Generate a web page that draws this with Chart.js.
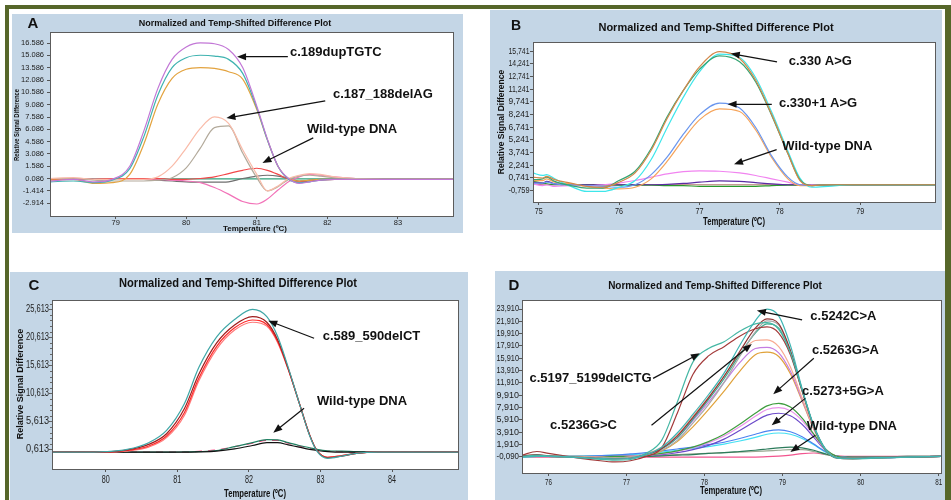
<!DOCTYPE html>
<html>
<head>
<meta charset="utf-8">
<script src="https://cdn.jsdelivr.net/npm/chart.js@4.4.1/dist/chart.umd.min.js"></script>
<style>
  body { margin: 0; width: 951px; height: 500px; background: #fff; position: relative; overflow: hidden; }
  .frame { position: absolute; background: #56672a; }
  .panel { position: absolute; background: #c4d6e6; }
  .panel canvas { display: block; }
</style>
</head>
<body>
<div class="frame" style="left:5px;top:5px;width:946px;height:4px"></div>
<div class="frame" style="left:5px;top:5px;width:4px;height:495px"></div>
<div class="frame" style="left:945px;top:5px;width:6px;height:495px"></div>

<div class="panel" style="left:12px;top:14px;width:451px;height:219px"><canvas id="chartA" width="451" height="219"></canvas></div>
<div class="panel" style="left:490px;top:10px;width:452px;height:220px"><canvas id="chartB" width="452" height="220"></canvas></div>
<div class="panel" style="left:10px;top:272px;width:458px;height:228px"><canvas id="chartC" width="458" height="228"></canvas></div>
<div class="panel" style="left:495px;top:271px;width:450px;height:229px"><canvas id="chartD" width="450" height="229"></canvas></div>

<script>
const FONT = "'Liberation Sans', Arial, sans-serif";
const TITLE = 'Normalized and Temp-Shifted Difference Plot';
const X_TITLE = 'Temperature (ºC)';
const Y_TITLE = 'Relative Signal Difference';

// ---- panel A ----
const tempA = [78.07, 78.4, 78.7, 78.95, 79.2, 79.4, 79.6, 79.8, 80.0, 80.2, 80.4, 80.6, 80.8, 81.0, 81.15, 81.3, 81.45, 81.6, 81.75, 81.9, 82.1, 82.4, 82.8, 83.3, 83.78];
const purpleA = [-0.2, 0.0, -0.3, 0.0, 1.6, 5.9, 11.1, 14.6, 16.1, 16.6, 16.5, 15.8, 13.6, 8.9, 4.9, 1.6, 0.1, -0.5, -0.3, -0.1, 0.0, 0.0, 0.0, 0.0, 0.0];
const tealA = [-0.3, -0.2, -0.4, -0.1, 1.3, 5.2, 10.3, 13.6, 14.8, 15.1, 15.0, 14.6, 12.9, 8.7, 4.8, 1.6, 0.0, -0.4, -0.3, -0.1, 0.0, 0.0, 0.0, 0.0, 0.0];
const orangeA = [-0.1, 0.0, -0.5, -0.4, 0.6, 4.3, 9.2, 12.3, 13.4, 13.6, 13.5, 13.1, 12.2, 8.5, 4.8, 1.6, 0.1, -0.2, -0.1, 0.0, 0.0, 0.0, 0.0, 0.0, 0.0];
const salmonA = [0.1, 0.2, 0.0, 0.0, 0.0, 0.0, 0.3, 1.6, 3.8, 6.2, 7.6, 6.8, 3.6, 0.6, -1.4, -0.8, 0.1, 0.5, 0.7, 0.6, 0.3, 0.1, 0.0, 0.0, 0.0];
const grayA = [0.1, 0.1, -0.1, -0.2, -0.2, -0.2, -0.1, 0.2, 1.4, 3.8, 6.3, 6.5, 3.2, 0.2, -1.4, -0.9, 0.0, 0.4, 0.5, 0.4, 0.2, 0.1, 0.0, 0.0, 0.0];
const redA = [0.0, 0.0, 0.0, 0.1, 0.1, 0.1, 0.1, 0.0, 0.0, 0.1, 0.3, 0.7, 1.1, 1.35, 1.1, 0.6, 0.0, -0.3, -0.2, -0.1, 0.0, 0.0, 0.0, 0.0, 0.0];
const pinkA = [0.0, 0.0, 0.0, 0.0, 0.0, 0.0, 0.0, -0.1, -0.2, -0.4, -1.0, -1.8, -2.7, -3.0, -2.4, -1.3, -0.3, 0.3, 0.6, 0.5, 0.3, 0.1, 0.0, 0.0, 0.0];
const darkA = [0.0, 0.1, 0.0, 0.0, 0.0, 0.0, -0.1, -0.2, -0.3, -0.35, -0.35, -0.3, 0.1, 0.4, 0.5, 0.4, 0.1, -0.2, -0.1, 0.0, 0.0, 0.0, 0.0, 0.0, 0.0];
const flatA = [0.05, 0.05, 0.05, 0.05, 0.05, 0.05, 0.05, 0.05, 0.05, 0.05, 0.05, 0.05, 0.05, 0.05, 0.05, 0.05, 0.05, 0.05, 0.05, 0.05, 0.05, 0.05, 0.05, 0.05, 0.05];
const yTicksA = [16.586, 15.086, 13.586, 12.086, 10.586, 9.086, 7.586, 6.086, 4.586, 3.086, 1.586, 0.086, -1.414, -2.914];
const xTicksA = [79, 80, 81, 82, 83];

// ---- panel B ----
const tempB = [74.93, 75.05, 75.1, 75.2, 75.4, 75.6, 75.8, 76.0, 76.2, 76.4, 76.6, 76.8, 77.0, 77.25, 77.5, 77.7, 77.9, 78.1, 78.25, 78.4, 78.6, 78.9, 79.3, 79.93];
const brownB = [0.8, 0.7, 0.9, 0.5, 0.1, -0.3, -0.4, 0.2, 1.3, 4.0, 7.8, 11.1, 13.9, 15.7, 14.9, 12.3, 8.2, 3.6, 0.4, -0.2, -0.1, -0.1, -0.1, -0.1];
const greenB = [0.5, 0.6, 0.8, 0.3, -0.2, -0.5, -0.5, 0.4, 1.5, 4.2, 8.0, 11.1, 13.6, 15.2, 14.5, 12.1, 8.1, 3.6, 0.5, -0.2, -0.1, -0.1, -0.1, -0.1];
const cyanB = [1.3, 1.0, 1.1, 0.6, -0.3, -0.9, -0.9, -0.4, 0.4, 2.9, 6.7, 10.3, 13.3, 15.4, 15.0, 12.6, 8.5, 3.9, 0.7, -0.4, -0.3, -0.1, -0.1, -0.1];
const blueB = [0.1, 0.1, 0.2, 0.0, -0.1, -0.2, -0.3, -0.4, -0.1, 1.1, 3.2, 5.9, 8.2, 9.6, 9.0, 6.7, 3.3, 0.8, -0.1, -0.2, -0.1, -0.1, -0.1, -0.1];
const orangeB = [0.4, 0.4, 0.6, 0.2, 0.0, -0.3, -0.5, -0.6, -0.4, 0.6, 2.7, 5.3, 7.6, 8.9, 8.6, 6.4, 3.1, 0.6, -0.2, -0.2, -0.1, -0.1, -0.1, -0.1];
const pinkB = [0.0, -0.2, -0.1, -0.3, -0.2, -0.2, -0.1, 0.1, 0.4, 0.8, 1.2, 1.45, 1.55, 1.5, 1.3, 1.0, 0.6, 0.2, -0.1, -0.1, -0.1, -0.1, -0.1, -0.1];
const purpleB = [0.2, 0.1, 0.3, 0.0, -0.1, -0.1, -0.1, -0.1, -0.1, -0.1, -0.05, 0.05, 0.2, 0.35, 0.3, 0.15, 0.0, -0.1, -0.1, -0.1, -0.1, -0.1, -0.1, -0.1];
const darkGreenB = [0.3, 0.1, 0.0, -0.1, -0.1, -0.1, -0.1, -0.15, -0.15, -0.15, -0.2, -0.2, -0.3, -0.3, -0.3, -0.3, -0.2, -0.15, -0.15, -0.15, -0.15, -0.15, -0.15, -0.15];
const flatB = [0.0, -0.1, -0.1, -0.1, -0.1, -0.1, -0.1, -0.1, -0.1, -0.1, -0.1, -0.1, -0.1, -0.1, -0.1, -0.1, -0.1, -0.1, -0.1, -0.1, -0.1, -0.1, -0.1, -0.1];
const yTicksB = [15.741, 14.241, 12.741, 11.241, 9.741, 8.241, 6.741, 5.241, 3.741, 2.241, 0.741, -0.759];
const xTicksB = [75, 76, 77, 78, 79];

// ---- panel C ----
const tempC = [79.25, 79.6, 80.0, 80.3, 80.6, 80.85, 81.1, 81.3, 81.55, 81.8, 82.05, 82.25, 82.4, 82.55, 82.7, 82.85, 82.95, 83.1, 83.3, 83.5, 83.8, 84.1, 84.4, 84.7, 84.92];
const tealC = [0.1, 0.1, 0.2, 0.6, 1.8, 4.0, 8.8, 15.2, 20.7, 23.8, 25.6, 24.3, 20.8, 15.2, 9.0, 3.0, 0.3, -1.0, -0.6, -0.1, 0.1, 0.1, 0.1, 0.1, 0.1];
const darkRedC = [0.1, 0.1, 0.15, 0.5, 1.5, 3.4, 7.9, 14.0, 19.6, 22.8, 24.3, 23.3, 20.2, 15.0, 9.0, 3.1, 0.4, -0.9, -0.6, -0.1, 0.1, 0.1, 0.1, 0.1, 0.1];
const redC = [0.1, 0.1, 0.1, 0.4, 1.2, 3.0, 7.2, 13.3, 19.0, 22.3, 23.7, 22.9, 19.9, 14.9, 9.0, 3.1, 0.4, -0.8, -0.5, -0.1, 0.1, 0.1, 0.1, 0.1, 0.1];
const lightRedC = [0.1, 0.1, 0.1, 0.3, 1.0, 2.7, 6.7, 12.8, 18.5, 21.9, 23.3, 22.6, 19.7, 14.8, 9.0, 3.1, 0.4, -0.8, -0.5, -0.1, 0.1, 0.1, 0.1, 0.1, 0.1];
const wildGreenC = [0.1, 0.1, 0.1, 0.1, 0.1, 0.1, 0.15, 0.2, 0.4, 1.1, 1.8, 2.35, 2.3, 1.8, 1.3, 0.9, 0.6, 0.35, 0.3, 0.2, 0.15, 0.1, 0.1, 0.1, 0.1];
const wildPinkC = [0.1, 0.1, 0.1, 0.1, 0.1, 0.1, 0.15, 0.25, 0.5, 1.1, 1.7, 2.2, 2.2, 1.7, 1.2, 0.8, 0.5, 0.3, 0.2, 0.1, 0.1, 0.1, 0.1, 0.1, 0.1];
const wildBlackC = [0.1, 0.1, 0.1, 0.1, 0.1, 0.1, 0.1, 0.15, 0.3, 0.7, 1.3, 1.8, 1.8, 1.4, 1.0, 0.6, 0.4, 0.2, 0.1, 0.1, 0.1, 0.1, 0.1, 0.1, 0.1];
const yTicksC = [25.613, 20.613, 15.613, 10.613, 5.613, 0.613];
const xTicksC = [80, 81, 82, 83, 84];

// ---- panel D ----
const tempD = [75.66, 75.85, 76.0, 76.3, 76.6, 76.85, 77.05, 77.25, 77.45, 77.65, 77.85, 78.05, 78.25, 78.45, 78.65, 78.8, 78.95, 79.1, 79.25, 79.4, 79.55, 79.7, 79.9, 80.2, 80.6, 81.03];
const topD = [-0.1, 0.0, 0.0, -0.1, -0.3, -0.4, -0.3, 0.3, 1.5, 3.8, 6.8, 10.0, 13.5, 18.0, 22.0, 23.9, 22.8, 18.0, 11.0, 5.0, 1.2, -0.2, -0.3, -0.2, -0.1, 0.0];
const shoulderTealD = [0.0, 0.2, 0.1, -0.1, -0.4, -0.6, -0.5, 0.5, 2.6, 8.8, 15.3, 17.5, 18.6, 20.3, 21.5, 21.7, 20.6, 16.8, 10.8, 4.8, 1.0, -0.3, -0.4, -0.3, -0.1, 0.0];
const shoulderRedD = [0.2, 0.8, 0.5, -0.1, -0.6, -0.9, -0.7, 0.0, 1.4, 7.0, 13.3, 16.3, 17.8, 19.5, 20.7, 21.0, 20.0, 16.5, 10.6, 4.8, 1.0, -0.3, -0.4, -0.2, -0.1, 0.0];
const brownD = [0.1, 0.3, 0.1, -0.1, -0.3, -0.4, -0.3, 0.3, 1.3, 3.3, 6.3, 9.5, 13.0, 17.0, 20.8, 22.3, 21.5, 17.2, 10.8, 4.9, 1.1, -0.2, -0.3, -0.2, -0.1, 0.0];
const grayD = [0.0, 0.1, 0.0, -0.1, -0.2, -0.3, -0.2, 0.2, 1.0, 2.6, 5.4, 8.4, 12.0, 16.2, 20.2, 22.0, 21.3, 17.0, 10.7, 4.8, 1.1, -0.2, -0.3, -0.2, -0.1, 0.0];
const greenTealD = [0.0, 0.1, 0.0, -0.1, -0.2, -0.3, -0.2, 0.3, 1.2, 3.0, 6.0, 9.2, 12.6, 16.5, 20.0, 21.5, 20.8, 16.8, 10.7, 4.8, 1.1, -0.2, -0.3, -0.2, -0.1, 0.0];
const salmonD = [0.1, 0.2, 0.1, 0.0, -0.1, -0.2, -0.1, 0.4, 1.5, 3.5, 6.5, 9.6, 13.0, 16.5, 18.8, 18.9, 17.8, 14.5, 9.5, 4.6, 1.1, -0.2, -0.3, -0.2, -0.1, 0.0];
const violetD = [0.0, 0.1, 0.0, -0.1, -0.1, -0.2, -0.1, 0.3, 1.2, 3.0, 5.8, 8.8, 12.0, 15.2, 17.5, 17.7, 16.8, 13.8, 9.2, 4.5, 1.1, -0.2, -0.3, -0.2, -0.1, 0.0];
const orangeD = [0.0, 0.1, 0.0, -0.1, -0.1, -0.2, -0.1, 0.2, 0.9, 2.4, 4.8, 7.6, 10.6, 13.8, 16.5, 16.9, 16.2, 13.4, 9.0, 4.4, 1.0, -0.2, -0.3, -0.2, -0.1, 0.0];
const greenD = [0.0, 0.0, 0.0, -0.1, -0.1, 0.0, 0.0, 0.2, 0.5, 0.9, 1.5, 2.4, 3.6, 5.2, 7.0, 8.2, 8.6, 8.0, 6.2, 3.6, 1.2, 0.0, -0.2, -0.2, -0.1, 0.0];
const lilacD = [0.0, 0.0, 0.0, -0.1, -0.1, 0.0, 0.1, 0.2, 0.4, 0.8, 1.4, 2.2, 3.3, 4.8, 6.5, 7.6, 7.9, 7.4, 5.8, 3.4, 1.1, 0.0, -0.2, -0.2, -0.1, 0.0];
const purpleD = [0.0, 0.0, 0.0, -0.1, -0.1, 0.0, 0.1, 0.2, 0.3, 0.6, 1.1, 1.8, 2.8, 4.2, 5.7, 6.7, 7.0, 6.6, 5.2, 3.1, 1.0, 0.0, -0.2, -0.2, -0.1, 0.0];
const blueD = [0.0, 0.0, 0.0, 0.0, 0.1, 0.2, 0.4, 0.6, 0.9, 1.2, 1.5, 1.9, 2.3, 2.9, 3.6, 4.1, 4.3, 4.0, 3.2, 2.0, 0.8, 0.0, -0.2, -0.2, -0.1, 0.0];
const cyanD = [-0.1, 0.0, 0.0, 0.0, 0.1, 0.2, 0.3, 0.4, 0.7, 1.0, 1.3, 1.6, 2.0, 2.5, 3.1, 3.6, 3.8, 3.6, 2.9, 1.9, 0.7, 0.0, -0.2, -0.2, -0.1, 0.0];
const wildGreenD = [0.0, 0.0, 0.0, 0.0, 0.0, 0.0, 0.0, 0.0, 0.1, 0.2, 0.3, 0.5, 0.6, 0.8, 1.0, 1.2, 1.4, 1.5, 1.4, 1.0, 0.4, 0.0, -0.1, -0.1, 0.0, 0.0];
const wildGrayD = [0.0, 0.0, 0.0, 0.0, 0.0, 0.0, 0.0, 0.1, 0.2, 0.3, 0.4, 0.5, 0.6, 0.7, 0.8, 0.9, 1.0, 1.1, 1.1, 0.8, 0.3, 0.0, -0.1, -0.1, 0.0, 0.0];
const wildPinkD = [-0.1, -0.1, -0.1, -0.1, -0.1, -0.1, -0.1, -0.1, -0.1, -0.1, -0.1, -0.1, -0.1, -0.1, -0.1, -0.05, 0.05, 0.2, 0.45, 0.55, 0.35, 0.1, 0.0, 0.0, 0.0, 0.0];
const yTicksD = [23.91, 21.91, 19.91, 17.91, 15.91, 13.91, 11.91, 9.91, 7.91, 5.91, 3.91, 1.91, -0.09];
const xTicksD = [76, 77, 78, 79, 80, 81];

// annotation labels, placed in data units
const notesA = [
  { text: 'c.189dupTGTC', at: [81.47, 15.41], from: [81.44, 14.93], to: [80.72, 14.93] },
  { text: 'c.187_188delAG', at: [82.08, 10.29], from: [81.97, 9.56], to: [80.57, 7.45] },
  { text: 'Wild-type DNA', at: [81.71, 6.02], from: [81.80, 5.05], to: [81.08, 2.0] }
];
const notesB = [
  { text: 'c.330 A>G', at: [78.11, 14.56], from: [77.965, 14.48], to: [77.39, 15.48] },
  { text: 'c.330+1 A>G', at: [77.99, 9.57], from: [77.90, 9.45], to: [77.35, 9.45] },
  { text: 'Wild-type DNA', at: [78.03, 4.47], from: [77.96, 4.07], to: [77.43, 2.33] }
];
const notesC = [
  { text: 'c.589_590delCT', at: [83.03, 20.85], from: [82.91, 20.44], to: [82.27, 23.58] },
  { text: 'Wild-type DNA', at: [82.95, 9.24], from: [82.77, 7.93], to: [82.34, 3.58] }
];
const notesD = [
  { text: 'c.5242C>A', at: [79.355, 22.67], from: [79.25, 22.14], to: [78.67, 23.65] },
  { text: 'c.5263G>A', at: [79.377, 17.15], from: [79.40, 15.91], to: [78.88, 10.1] },
  { text: 'c.5273+5G>A', at: [79.25, 10.48], from: [79.29, 9.41], to: [78.86, 5.07] },
  { text: 'Wild-type DNA', at: [79.31, 4.9], from: [79.42, 3.44], to: [79.1, 0.72] },
  { text: 'c.5197_5199delCTG', at: [75.756, 12.66], from: [77.34, 12.66], to: [77.94, 16.72] },
  { text: 'c.5236G>C', at: [76.02, 5.06], from: [77.32, 5.06], to: [78.605, 18.24] }
];

function series(xs, ys, color, extra) {
  return Object.assign({
    data: xs.map((x, i) => ({ x: x, y: ys[i] })),
    borderColor: color,
    borderWidth: 1.2,
    pointRadius: 0,
    cubicInterpolationMode: 'monotone',
    fill: false
  }, extra || {});
}

function drawArrow(ctx, x1, y1, x2, y2) {
  const ang = Math.atan2(y2 - y1, x2 - x1);
  const len = 9, half = 3.5;
  ctx.beginPath();
  ctx.moveTo(x1, y1);
  ctx.lineTo(x2 - Math.cos(ang) * len * 0.8, y2 - Math.sin(ang) * len * 0.8);
  ctx.stroke();
  ctx.beginPath();
  ctx.moveTo(x2, y2);
  ctx.lineTo(x2 - Math.cos(ang) * len + Math.sin(ang) * half, y2 - Math.sin(ang) * len - Math.cos(ang) * half);
  ctx.lineTo(x2 - Math.cos(ang) * len - Math.sin(ang) * half, y2 - Math.sin(ang) * len + Math.cos(ang) * half);
  ctx.closePath();
  ctx.fill();
}

// white plot area, frame, narrow tick labels, titles and arrows
function decoPlugin(p) {
  const fmt = v => {
    const s = Number(v).toFixed(3);
    return p.comma ? s.replace('.', ',') : s;
  };
  return {
    id: 'deco',
    beforeDraw(chart) {
      const { ctx, chartArea: a } = chart;
      ctx.save();
      ctx.fillStyle = '#fff';
      ctx.fillRect(a.left, a.top, a.width, a.height);
      ctx.restore();
    },
    afterDraw(chart) {
      const { ctx, chartArea: a, scales } = chart;
      const X = v => scales.x.getPixelForValue(v);
      const Y = v => scales.y.getPixelForValue(v);
      ctx.save();
      ctx.strokeStyle = '#5c5c5c';
      ctx.lineWidth = 1;
      ctx.strokeRect(Math.round(a.left) + 0.5, Math.round(a.top) + 0.5, Math.round(a.width), Math.round(a.height));

      if (p.minorStep) {
        ctx.strokeStyle = '#666';
        ctx.beginPath();
        for (let v = p.yTicks[p.yTicks.length - 1]; v < scales.y.max; v += p.minorStep) {
          const py = Math.round(Y(v)) + 0.5;
          ctx.moveTo(a.left - 2, py);
          ctx.lineTo(a.left, py);
        }
        ctx.stroke();
      }

      // tick labels (condensed like the original software)
      ctx.fillStyle = '#222';
      ctx.textBaseline = 'middle';
      ctx.textAlign = 'right';
      ctx.font = p.yLab[0] + 'px ' + FONT;
      p.yTicks.forEach(v => ctx.fillText(fmt(v), a.left - p.yLab[2], Y(v), p.yLab[1]));
      ctx.textAlign = 'center';
      ctx.font = p.xLab[0] + 'px ' + FONT;
      p.xTicks.forEach(v => ctx.fillText(String(v), X(v), a.bottom + p.xLab[2], p.xLab[1]));

      ctx.fillStyle = '#111';
      ctx.font = 'bold ' + p.letter[3] + 'px ' + FONT;
      ctx.fillText(p.letter[0], p.letter[1], p.letter[2]);
      ctx.font = 'bold ' + p.title[2] + 'px ' + FONT;
      ctx.fillText(TITLE, p.title[0], p.title[1], p.title[3]);
      ctx.font = 'bold ' + p.xTitle[2] + 'px ' + FONT;
      ctx.fillText(X_TITLE, p.xTitle[0], p.xTitle[1], p.xTitle[3]);
      if (p.yTitle) {
        ctx.save();
        ctx.translate(p.yTitle[0], p.yTitle[1]);
        ctx.rotate(-Math.PI / 2);
        ctx.font = 'bold ' + p.yTitle[2] + 'px ' + FONT;
        ctx.fillText(Y_TITLE, 0, 0, p.yTitle[3]);
        ctx.restore();
      }

      ctx.font = 'bold 13px ' + FONT;
      ctx.textAlign = 'left';
      ctx.strokeStyle = '#111';
      ctx.lineWidth = 1.2;
      p.notes.forEach(n => {
        ctx.fillText(n.text, X(n.at[0]), Y(n.at[1]));
        drawArrow(ctx, X(n.from[0]), Y(n.from[1]), X(n.to[0]), Y(n.to[1]));
      });
      ctx.restore();
    }
  };
}

function makeChart(id, datasets, p) {
  const axisGrid = { drawOnChartArea: false, drawTicks: true, tickLength: p.tickLen, color: '#555' };
  return new Chart(document.getElementById(id), {
    type: 'line',
    data: { datasets: datasets },
    options: {
      responsive: false,
      animation: false,
      events: [],
      devicePixelRatio: 1,
      layout: { padding: { top: p.pad[0], right: p.pad[1], bottom: 0, left: 0 } },
      plugins: { legend: { display: false }, tooltip: { enabled: false } },
      scales: {
        x: {
          type: 'linear',
          min: p.xRange[0],
          max: p.xRange[1],
          afterBuildTicks: s => { s.ticks = p.xTicks.map(v => ({ value: v })); },
          afterFit: s => { s.height = p.xH; },
          grid: axisGrid,
          border: { display: false },
          ticks: { display: false }
        },
        y: {
          type: 'linear',
          min: p.yRange[0],
          max: p.yRange[1],
          afterBuildTicks: s => { s.ticks = p.yTicks.map(v => ({ value: v })); },
          afterFit: s => { s.width = p.yW; },
          grid: axisGrid,
          border: { display: false },
          ticks: { display: false }
        }
      }
    },
    plugins: [decoPlugin(p)]
  });
}

makeChart('chartA', [
  series(tempA, purpleA, '#c277d6'),
  series(tempA, tealA, '#3fb3b0'),
  series(tempA, orangeA, '#e3a33f'),
  series(tempA, salmonA, '#f9bba9'),
  series(tempA, grayA, '#b3aa9b'),
  series(tempA, redA, '#f2484a'),
  series(tempA, pinkA, '#f272b8'),
  series(tempA, darkA, '#6f6f6f'),
  series(tempA, flatA, '#2fa07a')
], {
  xRange: [78.07, 83.78], yRange: [-4.46, 17.93], xTicks: xTicksA, yTicks: yTicksA,
  pad: [18, 10], yW: 38, xH: 17, tickLen: 3, comma: false,
  yLab: [7.5, 23, 6], xLab: [7.5, 9, 7],
  letter: ['A', 21, 10, 15], title: [223, 10, 9, 222], xTitle: [243, 215, 8, 64], yTitle: [5, 111, 6.5, 72],
  notes: notesA
});

makeChart('chartB', [
  series(tempB, brownB, '#d3874a'),
  series(tempB, greenB, '#35a473'),
  series(tempB, cyanB, '#3ee6ea'),
  series(tempB, blueB, '#6a96ee'),
  series(tempB, orangeB, '#f6a45a'),
  series(tempB, pinkB, '#f184f0'),
  series(tempB, purpleB, '#5b2ba3'),
  series(tempB, darkGreenB, '#2a9a2a'),
  series(tempB, flatB, '#b77a72')
], {
  xRange: [74.93, 79.93], yRange: [-2.15, 16.85], xTicks: xTicksB, yTicks: yTicksB,
  pad: [32, 7], yW: 43, xH: 28, tickLen: 3, comma: true,
  yLab: [9, 21, 3.5], xLab: [9, 8, 9.5],
  letter: ['B', 26, 16, 14], title: [226, 18, 11, 239], xTitle: [244, 212, 11, 62], yTitle: [11.5, 112, 8.5, 110],
  notes: notesB
});

makeChart('chartC', [
  series(tempC, tealC, '#3fa7a7'),
  series(tempC, darkRedC, '#9e1c1c'),
  series(tempC, redC, '#ff2a2a'),
  series(tempC, lightRedC, '#ff7a7a'),
  series(tempC, wildBlackC, '#111111'),
  series(tempC, wildGreenC, '#1f8062'),
  series(tempC, wildPinkC, '#ff3d7a', { borderDash: [7, 6] })
], {
  xRange: [79.25, 84.92], yRange: [-2.9, 27.27], xTicks: xTicksC, yTicks: yTicksC,
  pad: [28, 10], yW: 42, xH: 31, tickLen: 3, comma: true, minorStep: 1,
  yLab: [10, 23, 3], xLab: [10, 8, 11],
  letter: ['C', 24, 14, 15], title: [228, 12, 12, 238], xTitle: [245, 222, 11, 62], yTitle: [10.5, 112, 9, 132],
  notes: notesC
});

makeChart('chartD', [
  series(tempD, topD, '#3fb6b4'),
  series(tempD, shoulderTealD, '#45b7a4'),
  series(tempD, shoulderRedD, '#a33a3a'),
  series(tempD, brownD, '#8e3434'),
  series(tempD, grayD, '#a9a9a9'),
  series(tempD, greenTealD, '#3aa98c'),
  series(tempD, salmonD, '#f8ab92'),
  series(tempD, violetD, '#c47de2'),
  series(tempD, orangeD, '#e0a23a'),
  series(tempD, greenD, '#3f9d3f'),
  series(tempD, lilacD, '#ea93ea'),
  series(tempD, purpleD, '#6b49c9'),
  series(tempD, blueD, '#4c82f0'),
  series(tempD, cyanD, '#43e0f2'),
  series(tempD, wildGreenD, '#2c7b5b'),
  series(tempD, wildGrayD, '#9aa992'),
  series(tempD, wildPinkD, '#f2558f')
], {
  xRange: [75.66, 81.03], yRange: [-2.69, 25.37], xTicks: xTicksD, yTicks: yTicksD,
  pad: [29, 4], yW: 27, xH: 27, tickLen: 3, comma: true,
  yLab: [9, 22.5, 3], xLab: [8.5, 7, 9.5],
  letter: ['D', 19, 15, 15], title: [220, 15, 10, 229], xTitle: [236, 220, 11, 62],
  notes: notesD
});
</script>
</body>
</html>
